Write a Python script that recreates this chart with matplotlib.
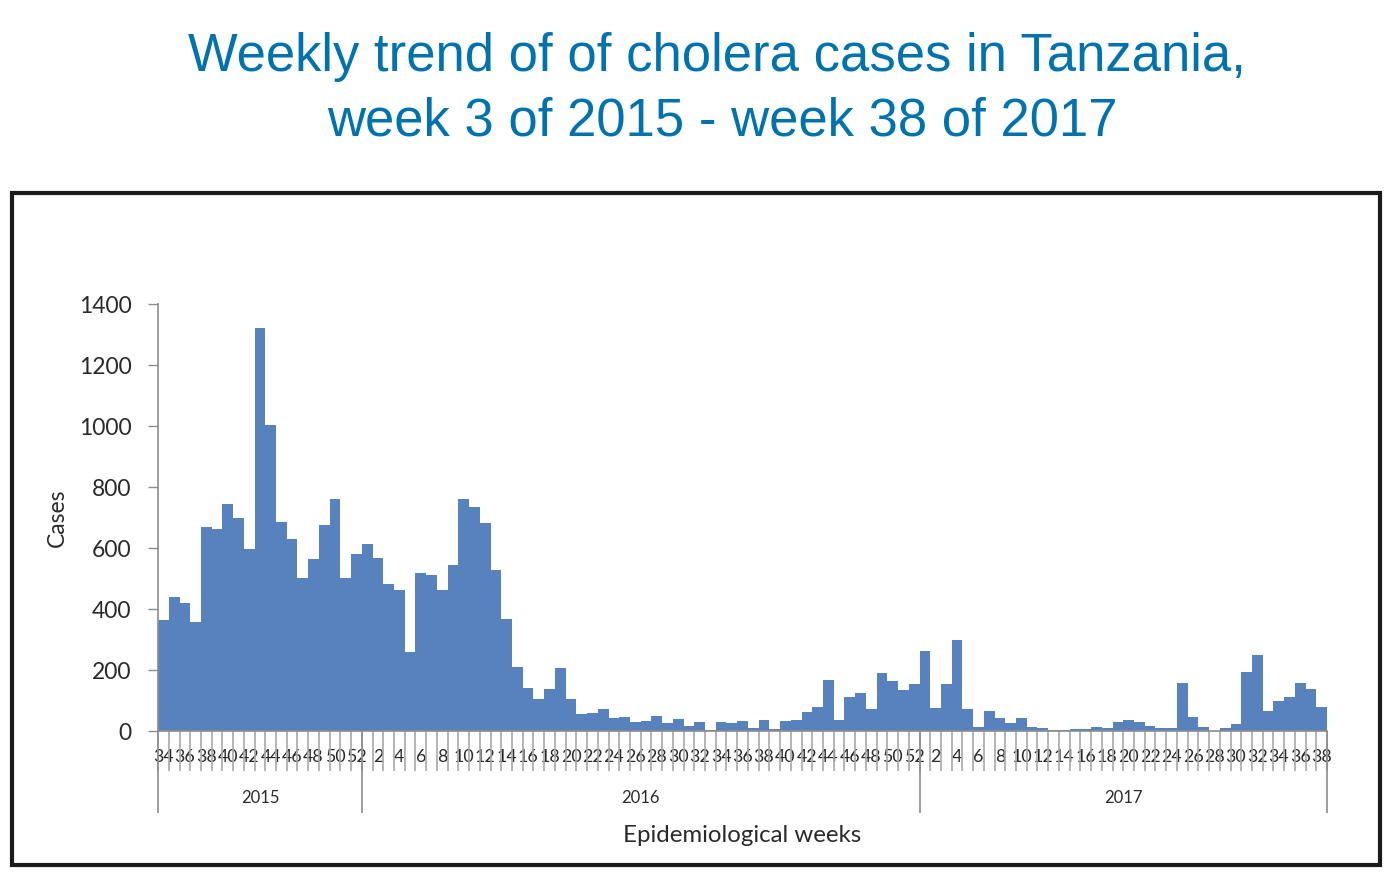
import numpy as np
import matplotlib
matplotlib.use('Agg')
import matplotlib.pyplot as plt
from matplotlib.patches import Rectangle

# weekly cholera cases
weeks_2015 = list(range(34, 53))
cases_2015 = [365, 439, 419, 357, 668, 664, 745, 698, 598, 1320,
              1005, 684, 629, 503, 565, 674, 761, 503, 580]

weeks_2016 = list(range(1, 53))
cases_2016 = [613, 568, 482, 462, 258, 518, 510, 463, 543, 760,
              734, 683, 529, 368, 211, 141, 104, 137, 207, 106,
              57, 60, 73, 44, 45, 28, 32, 49, 27, 39,
              15, 30, 3, 28, 25, 33, 10, 37, 8, 33,
              37, 63, 80, 168, 35, 110, 126, 73, 191, 165,
              134, 154]

weeks_2017 = list(range(1, 39))
cases_2017 = [264, 77, 154, 299, 72, 14, 66, 44, 26, 42,
              14, 11, 3, 3, 7, 7, 14, 10, 31, 37,
              31, 16, 10, 10, 158, 46, 13, 1, 11, 22,
              195, 250, 66, 99, 112, 156, 137, 80]

years = ['2015', '2016', '2017']
y_ticks = [0, 200, 400, 600, 800, 1000, 1200, 1400]

weeks = weeks_2015 + weeks_2016 + weeks_2017
cases = cases_2015 + cases_2016 + cases_2017
x = np.arange(len(weeks))

bar_color = '#5882BE'
axis_grey = '#8C8C8C'
text_dark = '#2A2A2A'

plt.rcParams['font.family'] = ['Lato', 'DejaVu Sans']

fig = plt.figure(figsize=(14, 8.8), dpi=100)
ax = fig.add_axes([0.1129, 0.1693, 0.835, 0.4852])

ax.bar(x, cases, width=1.0, align='center', color=bar_color, linewidth=0)

ax.set_xlim(-0.5, len(weeks) - 0.5)
ax.set_ylim(0, 1400)
ax.set_yticks(y_ticks)
ax.tick_params(axis='y', length=7, width=1, color=axis_grey, pad=12,
               labelsize=16.5, labelcolor=text_dark)

# labels on even weeks, tick lines on every bar boundary
lab_pos = [i for i, w in enumerate(weeks) if w % 2 == 0]
ax.set_xticks(lab_pos)
ax.set_xticklabels([str(weeks[i]) for i in lab_pos])
ax.set_xticks(np.arange(-0.5, len(weeks), 1.0), minor=True)
ax.tick_params(axis='x', which='major', length=0, pad=13,
               labelsize=12.8, labelcolor=text_dark)
ax.tick_params(axis='x', which='minor', length=29, width=1.2, color='#A8A8A8')

for s in ['top', 'right']:
    ax.spines[s].set_visible(False)
for s in ['left', 'bottom']:
    ax.spines[s].set_color(axis_grey)
    ax.spines[s].set_linewidth(1.2)

# year groups below the week labels
n15, n16, n17 = len(weeks_2015), len(weeks_2016), len(weeks_2017)
edges = np.array([0, n15, n15 + n16, n15 + n16 + n17]) - 0.5
ax.vlines(edges, -0.192, 0, transform=ax.get_xaxis_transform(),
          colors=axis_grey, linewidth=1.2, clip_on=False)
for yr, a, b in zip(years, edges[:-1], edges[1:]):
    ax.text((a + b) / 2, -0.157, yr, transform=ax.get_xaxis_transform(),
            ha='center', va='center', fontsize=12, color=text_dark)

ax.set_xlabel('Epidemiological weeks', fontsize=17.3, color=text_dark)
ax.xaxis.set_label_coords(0.5, -0.244)
ax.xaxis.label.set_va('center')
ax.set_ylabel('Cases', fontsize=16.5, color=text_dark)
ax.yaxis.set_label_coords(-0.077, 0.5)

# black frame round the chart
fig.patches.append(Rectangle((12 / 1400, 1 - 865 / 880), 1368 / 1400, 672 / 880,
                             transform=fig.transFigure, fill=False,
                             edgecolor='#1A1A1A', linewidth=3))

title_color = '#0072AD'
fig.text(0.512, 1 - 71 / 880, 'Weekly trend of of cholera cases in Tanzania,',
         ha='center', va='baseline', fontsize=37.9, color=title_color,
         family='Liberation Sans')
fig.text(0.516, 1 - 135 / 880, 'week 3 of 2015 - week 38 of 2017',
         ha='center', va='baseline', fontsize=37.9, color=title_color,
         family='Liberation Sans')

fig.savefig('out.png', dpi=100)
